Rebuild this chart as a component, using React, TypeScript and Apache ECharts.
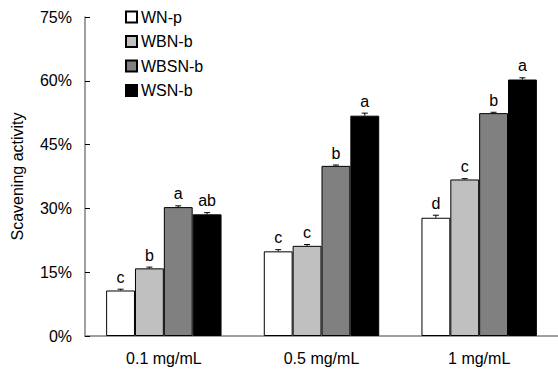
import React, { useEffect, useRef } from "react";
import * as echarts from "echarts";

const categories = ["0.1 mg/mL", "0.5 mg/mL", "1 mg/mL"];
const seriesNames = ["WN-p", "WBN-b", "WBSN-b", "WSN-b"];
const seriesColors = ["#ffffff", "#c0c0c0", "#808080", "#000000"];
const valuesWNp = [10.7, 19.9, 27.8];
const valuesWBNb = [15.9, 21.2, 36.8];
const valuesWBSNb = [30.3, 40.0, 52.4];
const valuesWSNb = [28.6, 51.8, 60.3];
const errorsWNp = [0.3, 0.4, 0.6];
const errorsWBNb = [0.3, 0.3, 0.2];
const errorsWBSNb = [0.3, 0.2, 0.2];
const errorsWSNb = [0.4, 0.6, 0.4];
const lettersWNp = ["c", "c", "d"];
const lettersWBNb = ["b", "c", "c"];
const lettersWBSNb = ["a", "b", "b"];
const lettersWSNb = ["ab", "a", "a"];
const yTicks = { min: 0, max: 75, interval: 15 };

const allValues = [valuesWNp, valuesWBNb, valuesWBSNb, valuesWSNb];
const allErrors = [errorsWNp, errorsWBNb, errorsWBSNb, errorsWSNb];
const allLetters = [lettersWNp, lettersWBNb, lettersWBSNb, lettersWSNb];

const FONT = "'Liberation Sans', Arial, sans-serif";
const FS = 16;
const BAR_RATIO = 0.183;

export default function App() {
  const ref = useRef<HTMLDivElement>(null);
  useEffect(() => {
    if (!ref.current) return;
    const chart = echarts.init(ref.current, undefined, { renderer: "svg" });
    const barSeries = seriesNames.map((name, i) => ({
      name,
      type: "bar",
      data: allValues[i],
      barWidth: BAR_RATIO * 100 + "%",
      barGap: "0%",
      itemStyle: { color: seriesColors[i], borderColor: "#000", borderWidth: 1 },
      emphasis: { disabled: true },
    }));
    const errSeries = seriesNames.map((name, i) => ({
      name: name + "-err",
      type: "custom",
      z: 5,
      data: allValues[i].map((v, k) => [k, v, allErrors[i][k]]),
      renderItem: (params: any, api: any) => {
        const k = api.value(0);
        const v = api.value(1);
        const e = api.value(2);
        const letter = allLetters[i][params.dataIndex];
        const band = api.size([1, 0])[0];
        const off = (i - 1.5) * band * BAR_RATIO;
        const top = api.coord([k, v + e]);
        const base = api.coord([k, v]);
        const x = top[0] + off;
        const capW = 3;
        return {
          type: "group",
          children: [
            { type: "line", shape: { x1: x, y1: base[1], x2: x, y2: top[1] }, style: { stroke: "#000", lineWidth: 1 } },
            { type: "line", shape: { x1: x - capW, y1: top[1], x2: x + capW, y2: top[1] }, style: { stroke: "#000", lineWidth: 1 } },
            {
              type: "text",
              x: x,
              y: top[1] - 4,
              style: {
                text: letter,
                fill: "#000",
                font: FS + "px " + FONT,
                align: "center",
                verticalAlign: "bottom",
              },
            },
          ],
        };
      },
    }));
    chart.setOption({
      animation: false,
      textStyle: { fontFamily: FONT },
      legend: {
        data: seriesNames,
        orient: "vertical",
        left: 125,
        top: 9,
        padding: 0,
        itemWidth: 11,
        itemHeight: 11,
        itemGap: 8.5,
        icon: "rect",
        textStyle: { fontSize: FS, color: "#000", fontFamily: FONT, lineHeight: 16, padding: [0, 0, 0, -1] },
        selectedMode: false,
      },
      grid: { left: 85, right: -3, top: 17, bottom: 34, containLabel: false },
      xAxis: {
        type: "category",
        data: categories,
        axisLine: { lineStyle: { color: "#808080", width: 1.5 } },
        axisTick: { inside: true, length: 4, lineStyle: { color: "#000" } },
        axisLabel: { fontSize: FS, color: "#000", margin: 14, fontFamily: FONT },
      },
      yAxis: {
        type: "value",
        min: yTicks.min,
        max: yTicks.max,
        interval: yTicks.interval,
        name: "Scavening activity",
        nameLocation: "middle",
        nameGap: 60,
        nameTextStyle: { fontSize: FS, color: "#000", fontFamily: FONT },
        axisLine: { show: true, lineStyle: { color: "#808080", width: 1.5 } },
        axisTick: { show: true, inside: true, length: 5, lineStyle: { color: "#000" } },
        axisLabel: { fontSize: FS, color: "#000", margin: 13, formatter: "{value}%", fontFamily: FONT },
        splitLine: { show: false },
      },
      series: [...barSeries, ...errSeries],
    });
    return () => chart.dispose();
  }, []);
  return (
    <div
      ref={ref}
      style={{ position: "fixed", left: 0, top: 0, width: 558, height: 370, background: "#fff" }}
    />
  );
}
